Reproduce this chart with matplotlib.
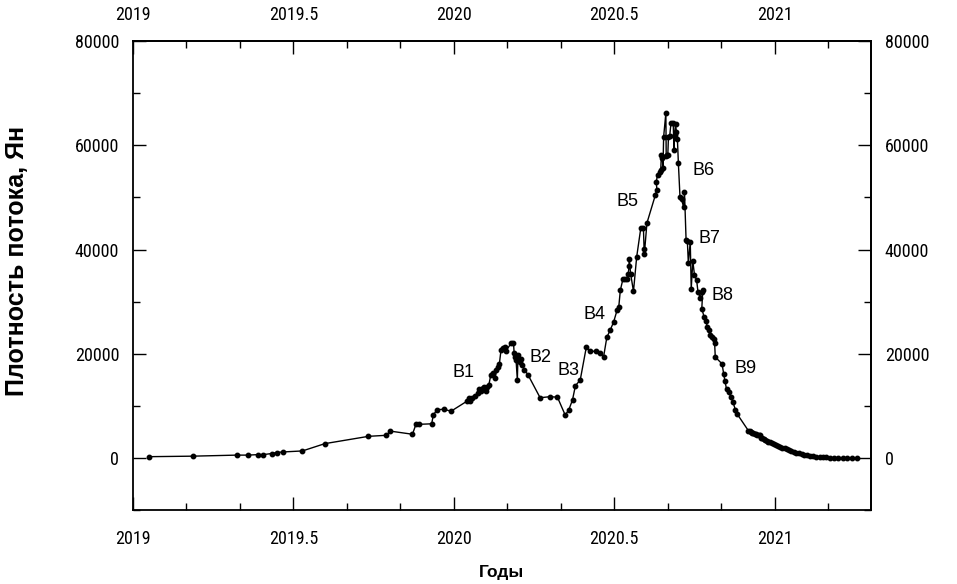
import matplotlib
matplotlib.use('Agg')
import numpy as np
import matplotlib.pyplot as plt
from matplotlib import font_manager
from matplotlib.ticker import FixedLocator, FormatStrFormatter

plt.rcParams['font.family'] = ['Liberation Sans', 'DejaVu Sans']

# годы (десятичные) и плотность потока, Ян
years = [
    2019.050, 2019.187, 2019.323, 2019.359, 2019.391, 2019.406, 2019.432,
    2019.448, 2019.466, 2019.528, 2019.598, 2019.734, 2019.790, 2019.802,
    2019.871, 2019.882, 2019.891, 2019.931, 2019.936, 2019.948, 2019.970,
    2019.991, 2020.040, 2020.046, 2020.051, 2020.058, 2020.066, 2020.075,
    2020.080, 2020.085, 2020.090, 2020.095, 2020.100, 2020.104, 2020.109,
    2020.115, 2020.121, 2020.129, 2020.133, 2020.137, 2020.142, 2020.147,
    2020.152, 2020.158, 2020.163, 2020.178, 2020.186, 2020.188, 2020.191,
    2020.194, 2020.198, 2020.200, 2020.205, 2020.210, 2020.214, 2020.220,
    2020.232, 2020.269, 2020.300, 2020.323, 2020.347, 2020.358, 2020.370,
    2020.379, 2020.394, 2020.413, 2020.425, 2020.444, 2020.455, 2020.467,
    2020.477, 2020.487, 2020.498, 2020.509, 2020.514, 2020.519, 2020.527,
    2020.533, 2020.539, 2020.544, 2020.546, 2020.547, 2020.551, 2020.560,
    2020.570, 2020.583, 2020.591, 2020.593, 2020.594, 2020.602, 2020.628,
    2020.633, 2020.631, 2020.635, 2020.643, 2020.645, 2020.647, 2020.650,
    2020.652, 2020.654, 2020.661, 2020.662, 2020.665, 2020.667, 2020.669,
    2020.673, 2020.677, 2020.684, 2020.686, 2020.688, 2020.691, 2020.694,
    2020.697, 2020.700, 2020.705, 2020.710, 2020.716, 2020.719, 2020.724,
    2020.728, 2020.731, 2020.737, 2020.740, 2020.745, 2020.750, 2020.757,
    2020.761, 2020.768, 2020.773, 2020.776, 2020.773, 2020.780, 2020.786,
    2020.790, 2020.795, 2020.799, 2020.805, 2020.810, 2020.813, 2020.815,
    2020.836, 2020.841, 2020.845, 2020.850, 2020.857, 2020.863, 2020.870,
    2020.878, 2020.883, 2020.918, 2020.922, 2020.926, 2020.930, 2020.934,
    2020.938, 2020.942, 2020.946, 2020.950, 2020.955, 2020.958, 2020.962,
    2020.966, 2020.970, 2020.975, 2020.980, 2020.986, 2020.992, 2020.998,
    2021.004, 2021.010, 2021.017, 2021.024, 2021.031, 2021.038, 2021.045,
    2021.052, 2021.060, 2021.068, 2021.076, 2021.084, 2021.092, 2021.100,
    2021.110, 2021.120, 2021.130, 2021.140, 2021.150, 2021.160, 2021.172,
    2021.185, 2021.198, 2021.212, 2021.225, 2021.240, 2021.256,
]
flux = [
    300, 400, 600, 600, 700, 700, 900,
    1100, 1200, 1400, 2800, 4200, 4400, 5200,
    4600, 6500, 6500, 6600, 8300, 9300, 9400,
    9000, 10900, 11600, 10900, 11500, 12000, 12500,
    13200, 12800, 13500, 13700, 12900, 13600, 14000,
    15900, 16300, 15400, 17000, 17400, 18100, 20700,
    21200, 21400, 20600, 22000, 22100, 20200, 19500,
    18800, 15000, 19800, 18500, 19000, 17800, 17000,
    15900, 11600, 11800, 11700, 8300, 9200, 11200,
    13900, 15000, 21300, 20500, 20500, 20200, 19500,
    23200, 24500, 26100, 28400, 28900, 32200, 34300,
    34400, 34400, 35400, 36900, 38100, 35400, 32000,
    38600, 44200, 44200, 40200, 39200, 45100, 50400,
    51500, 53000, 54300, 54900, 55300, 58100, 57500,
    55700, 61600, 66200, 58000, 58200, 58100, 61600,
    61800, 64300, 64200, 59000, 62000, 64000, 62500,
    61100, 56500, 50100, 49600, 48200, 51100, 41800,
    41600, 37400, 41500, 32500, 37800, 35200, 34100,
    31900, 30800, 31900, 32200, 28700, 27100, 26400,
    25200, 24500, 23600, 23200, 22900, 22000, 19400,
    18100, 16200, 14800, 13300, 12700, 11800, 10800,
    9200, 8500, 5300, 5200, 5100, 4900, 4800,
    4700, 4600, 4400, 4500, 4400, 3900, 3800,
    3700, 3500, 3400, 3200, 3100, 2900, 2700,
    2500, 2400, 2200, 2000, 1900, 1700, 1600,
    1450, 1250, 1100, 950, 800, 650, 550,
    450, 350, 280, 220, 180, 150, 120,
    100, 80, 60, 50, 40, 30,
]

# подписи вспышек
labels = ['B1', 'B2', 'B3', 'B4', 'B5', 'B6', 'B7', 'B8', 'B9']
label_x = [2020.030, 2020.270, 2020.356, 2020.437, 2020.540, 2020.780, 2020.796, 2020.837, 2020.908]
label_y = [16400, 19300, 16800, 27600, 49300, 55200, 42200, 31200, 17200]

# узкий шрифт для подписей осей, если он есть
names = {f.name for f in font_manager.fontManager.ttflist}
tick_font, tick_size = 'Liberation Sans', 12
for cand in ['Liberation Sans Narrow', 'Arial Narrow', 'Roboto Condensed']:
    if cand in names:
        tick_font, tick_size = cand, 13
        break

fig = plt.figure(figsize=(9.57, 5.84), dpi=100)
ax = fig.add_axes([0.139, 0.126, 0.771, 0.804])

ax.plot(years, flux, color='black', lw=1.0, marker='o', ms=3.2)

for t, lx, ly in zip(labels, label_x, label_y):
    ax.text(lx, ly, t, fontsize=13, ha='center', va='center')

ax.set_xlim(2019, 2021.3)
ax.set_ylim(-10000, 80000)

# только деления внутри пределов осей
x_major = np.arange(2019, 2021.3, 0.5)
x_minor = 2019 + np.arange(0, 14) / 6
y_major = np.arange(0, 80001, 20000)
y_minor = np.arange(-10000, 80001, 10000)

top = ax.secondary_xaxis('top')
right = ax.secondary_yaxis('right')
for a in (ax.xaxis, top.xaxis):
    a.set_major_locator(FixedLocator(x_major))
    a.set_minor_locator(FixedLocator(x_minor))
    a.set_major_formatter(FormatStrFormatter('%g'))
for a in (ax.yaxis, right.yaxis):
    a.set_major_locator(FixedLocator(y_major))
    a.set_minor_locator(FixedLocator(y_minor))

for a in (ax, top, right):
    a.tick_params(which='both', direction='in', width=1.0)
    a.tick_params(which='major', length=9.5)
    a.tick_params(which='minor', length=5)
ax.tick_params(axis='x', which='major', pad=14)
top.tick_params(axis='x', which='major', pad=12)
ax.tick_params(axis='y', which='major', pad=10)
right.tick_params(axis='y', which='major', pad=10)

for a in (ax.xaxis, ax.yaxis, top.xaxis, right.yaxis):
    for lab in a.get_ticklabels():
        lab.set_family(tick_font)
        lab.set_fontsize(tick_size)

for a in (ax, top, right):
    for s in a.spines.values():
        s.set_linewidth(1.3)

fig.text(0.5 * (0.139 + 0.910), (584 - 573) / 584, 'Годы',
         fontsize=12.5, fontweight='bold', ha='center', va='center')
fig.text(17 / 957, 0.126 + 0.804 * (10000 + 40000) / 90000 - 0.02,
         'Плотность потока, Ян', fontsize=18, fontweight='bold',
         rotation=90, ha='center', va='center')

fig.savefig('out.png', dpi=100)
